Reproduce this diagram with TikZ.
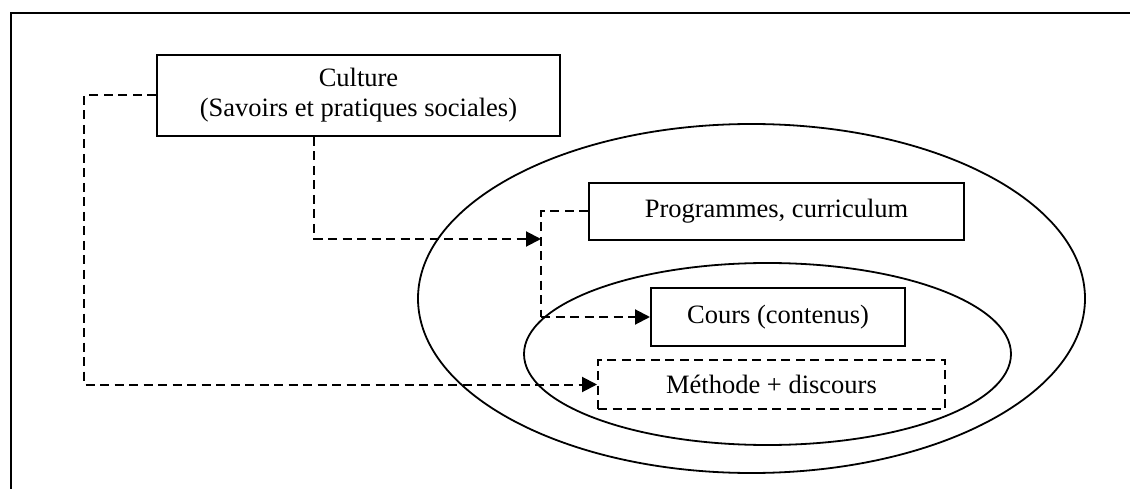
\documentclass[tikz,border=0pt]{standalone}
\usepackage{fontspec}
\setmainfont{Liberation Serif}
\usetikzlibrary{arrows.meta}
\begin{document}
\begin{tikzpicture}[x=1pt,y=-1pt,
  box/.style={draw,line width=2pt,inner sep=0pt,align=center,font=\fontsize{26.5}{30}\selectfont},
  dbox/.style={box,dash pattern=on 9pt off 5.5pt},
  conn/.style={line width=2pt,dash pattern=on 9pt off 5.5pt,-{Triangle[length=15pt,width=15pt]}},
  conn0/.style={line width=2pt,dash pattern=on 9pt off 5.5pt},
  ell/.style={line width=1.8pt}]
\useasboundingbox (0,0) rectangle (1130,489);
% frame (open at right and bottom)
\draw[line width=2.2pt] (1130,13) -- (11,13) -- (11,489);
% ellipses
\draw[ell] (751.5,298.5) ellipse [x radius=333.5, y radius=174.5];
\draw[ell] (767.5,354) ellipse [x radius=243.5, y radius=91];
% nodes
\node[box,minimum width=403pt,minimum height=81pt] (cult) at (358.5,95.5) {Culture\\(Savoirs et pratiques sociales)};
\node[box,minimum width=375pt,minimum height=57pt] (prog) at (776.5,211.5) {Programmes, curriculum};
\node[box,minimum width=254pt,minimum height=58pt] (cours) at (778,317) {Cours (contenus)};
\node[dbox,minimum width=347pt,minimum height=49pt] (meth) at (771.5,384.5) {M\'ethode + discours};
% junctions
\coordinate (jl) at (84,384.5);
\coordinate (j1) at (541,239);
\coordinate (j2) at (541,317);
% connectors
\draw[conn] (cult.west) -| (jl) -- (meth.west);
\draw[conn] ([xshift=-44.5pt]cult.south) |- (j1);
\draw[conn0] (prog.west) -| (j2);
\draw[conn] (j2) -- (cours.west);
\end{tikzpicture}
\end{document}
